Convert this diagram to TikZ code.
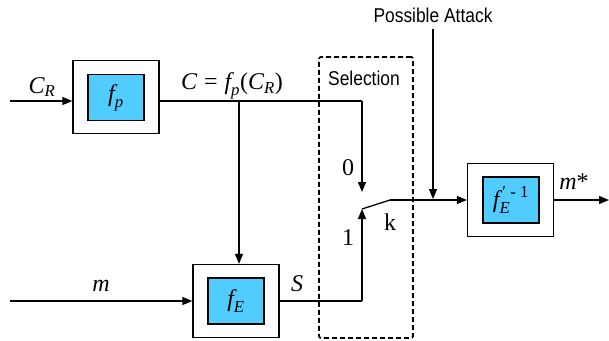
\documentclass[tikz,border=0pt]{standalone}
\usepackage{amsmath}
\usepackage{fontspec}
\newfontfamily\arialn[FakeStretch=0.87]{Liberation Sans}
\newfontfamily\tms{Liberation Serif}
\newcommand\ti[1]{\text{\tms\itshape #1}}
\newcommand\tu[1]{\text{\tms #1}}
\usetikzlibrary{arrows.meta}
\definecolor{boxcyan}{RGB}{80,204,255}
\begin{document}
\begin{tikzpicture}[x=1pt,y=-1pt,
  outer/.style={draw, line width=1.3pt, minimum width=86pt, minimum height=73pt, inner sep=0pt},
  inner/.style={draw, fill=boxcyan, line width=1.3pt, minimum width=56pt, minimum height=46pt, inner sep=0pt, font=\tms\fontsize{24}{26}\selectfont},
  wire/.style={line width=1.3pt},
  arr/.style={line width=1.3pt, -{Triangle[length=10pt,width=8pt]}},
  lbl/.style={font=\tms\fontsize{24}{26}\selectfont, inner sep=0pt},
  sans/.style={font=\arialn\fontsize{20}{22}\selectfont, inner sep=0pt}
]
\useasboundingbox (0,0) rectangle (609,340);

% boxes
\node[outer] (fpo) at (116,97) {};
\node[inner] (fpi) at (116,97.5) {$\ti{f}_{\ti{p}}$};
\node[outer] (feo) at (236,301) {};
\node[inner] (fei) at (236,301) {$\ti{f}_{\ti{E}}$};
\node[outer] (fxo) at (510.5,200) {};
\node[inner] (fxi) at (511,200) {$\ti{f}_{\ti{E}}^{\,\tu{′ - 1}}$};

% selection box
\node[draw, dash pattern=on 5pt off 3pt, line width=1.8pt, rounded corners=2pt,
      minimum width=94pt, minimum height=281pt, inner sep=0pt] (sel) at (366,197.5) {};
\node[sans] (seltxt) at (364,78) {Selection};
\node[sans] (atttxt) at (433,15) {Possible Attack};

% coordinates
\coordinate (cin) at (10,101);
\coordinate (br) at (239,101);
\coordinate (top) at (362,101);
\coordinate (sw0) at (362,192);
\coordinate (min) at (10,301);
\coordinate (sbend) at (362,301);
\coordinate (sw1) at (362,209);
\coordinate (swk) at (390,200);
\coordinate (att) at (433,29);
\coordinate (atttip) at (433,199);
\coordinate (out) at (609,200);

% connectors
\draw[arr] (cin) -- (cin -| fpo.west);
\draw[wire] (cin -| fpo.east) -- (top);
\draw[arr] (top) -- (sw0);
\draw[arr] (br) -- (br |- feo.north);
\draw[arr] (min) -- (feo.west);
\draw[wire] (feo.east) -- (sbend);
\draw[arr] (sbend) -- (sw1);
\draw[wire] (sw1) -- (swk);
\draw[arr] (swk) -- (fxo.west);
\draw[arr] (att) -- (atttip);
\draw[arr] (fxo.east) -- (out);

% labels
\node[lbl] (lcr) at (42,87) {$\ti{C}_{\ti{R}}$};
\node[lbl] (lc) at (232,86) {$\ti{C}\;\tu{=}\;\ti{f}_{\ti{p}}\tu{(}\ti{C}_{\ti{R}}\tu{)}$};
\node[lbl] (lm) at (101,286) {$\ti{m}$};
\node[lbl] (ls) at (297,284) {$\ti{S}$};
\node[lbl] (l0) at (348,168) {0};
\node[lbl] (l1) at (348,238) {1};
\node[lbl] (lk) at (390,222) {k};
\node[lbl] (lms) at (574,182) {\itshape m\upshape*};
\end{tikzpicture}
\end{document}
